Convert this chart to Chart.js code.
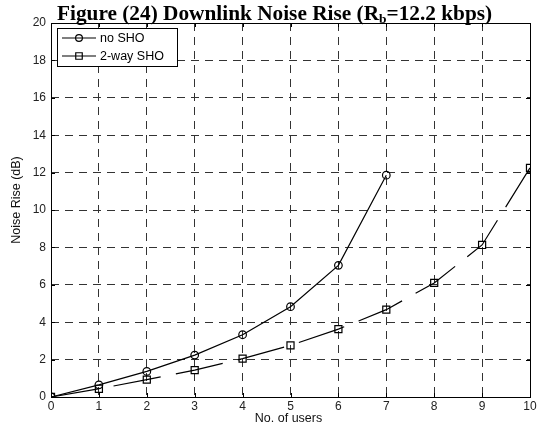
<!DOCTYPE html>
<html>
<head>
<meta charset="utf-8">
<script src="https://cdn.jsdelivr.net/npm/chart.js@4.4.0/dist/chart.umd.min.js"></script>
<style>
  html, body { margin: 0; padding: 0; background: #fff; }
  #wrap { width: 537px; height: 430px; position: relative; }
</style>
</head>
<body>
<div id="wrap"><canvas id="c"></canvas></div>
<script>
// Number of users on the x axis
const users = [0, 1, 2, 3, 4, 5, 6, 7, 8, 9, 10];
// Downlink noise rise (dB) without soft handover
const noShoRise = [0, 0.65, 1.37, 2.24, 3.33, 4.83, 7.04, 11.86];
// Downlink noise rise (dB) with 2-way soft handover
const twoWayShoRise = [0, 0.44, 0.93, 1.44, 2.05, 2.76, 3.63, 4.67, 6.1, 8.13, 12.25];
const seriesNames = ['no SHO', '2-way SHO'];
const xTicks = [0, 1, 2, 3, 4, 5, 6, 7, 8, 9, 10];
const yTicks = [0, 2, 4, 6, 8, 10, 12, 14, 16, 18, 20];
const titleMain = 'Figure (24) Downlink Noise Rise (R';
const titleSub = 'b';
const titleTail = '=12.2 kbps)';
const xLabel = 'No. of users';
const yLabel = 'Noise Rise (dB)';

const SANS = '"Liberation Sans", Arial, sans-serif';
const SERIF = '"Liberation Serif", "Times New Roman", serif';

const toPoints = (ys) => ys.map((y, i) => ({ x: users[i], y }));

// Axes frame with short inward ticks on all four sides
const framePlugin = {
  id: 'frame',
  beforeDatasetsDraw(chart) {
    const { ctx, chartArea: a, scales } = chart;
    ctx.save();
    ctx.strokeStyle = '#000';
    ctx.lineWidth = 1;
    ctx.setLineDash([]);
    ctx.beginPath();
    const L = 4;
    xTicks.forEach(v => {
      const px = Math.round(scales.x.getPixelForValue(v)) + 0.5;
      ctx.moveTo(px, a.bottom); ctx.lineTo(px, a.bottom - L);
      ctx.moveTo(px, a.top); ctx.lineTo(px, a.top + L);
    });
    yTicks.forEach(v => {
      const py = Math.round(scales.y.getPixelForValue(v)) + 0.5;
      ctx.moveTo(a.left, py); ctx.lineTo(a.left + L, py);
      ctx.moveTo(a.right, py); ctx.lineTo(a.right - L, py);
    });
    ctx.stroke();
    ctx.strokeRect(Math.round(a.left) + 0.5, Math.round(a.top) + 0.5,
                   Math.round(a.right - a.left), Math.round(a.bottom - a.top));
    ctx.restore();
  }
};

// Boxed legend (line sample + marker), title and axis labels
const annotatePlugin = {
  id: 'annotate',
  afterDraw(chart) {
    const { ctx, chartArea: a } = chart;
    ctx.save();
    ctx.setLineDash([]);

    // legend box
    const bx = 57.5, by = 28.5, bw = 120, bh = 38;
    ctx.fillStyle = '#fff';
    ctx.fillRect(bx, by, bw, bh);
    ctx.strokeStyle = '#000';
    ctx.lineWidth = 1;
    ctx.strokeRect(bx, by, bw, bh);
    const rows = [38, 56];
    chart.data.datasets.forEach((ds, i) => {
      const y = rows[i];
      ctx.strokeStyle = '#000';
      ctx.lineWidth = 1.2;
      ctx.beginPath();
      ctx.moveTo(62, y); ctx.lineTo(96, y);
      ctx.stroke();
      ctx.fillStyle = 'rgba(0,0,0,0)';
      Chart.helpers.drawPoint(ctx, {
        pointStyle: ds.pointStyle,
        radius: ds.pointStyle === 'rect' ? 4.6 : 3.4,
        rotation: 0,
        borderWidth: 1.2
      }, 79, y);
      ctx.fillStyle = '#000';
      ctx.font = '12.5px ' + SANS;
      ctx.textBaseline = 'middle';
      ctx.textAlign = 'left';
      ctx.fillText(ds.label, 100, y + 0.5);
    });

    // title with subscript
    ctx.fillStyle = '#000';
    ctx.textBaseline = 'alphabetic';
    ctx.textAlign = 'left';
    const mainFont = 'bold 21.3px ' + SERIF;
    const subFont = 'bold 13.5px ' + SERIF;
    let tx = 57;
    const ty = 19.5;
    ctx.font = mainFont;
    ctx.fillText(titleMain, tx, ty);
    tx += ctx.measureText(titleMain).width;
    ctx.font = subFont;
    ctx.fillText(titleSub, tx, ty + 3.5);
    tx += ctx.measureText(titleSub).width;
    ctx.font = mainFont;
    ctx.fillText(titleTail, tx, ty);

    // axis labels
    ctx.font = '12.5px ' + SANS;
    ctx.fillStyle = '#111';
    ctx.textAlign = 'center';
    ctx.textBaseline = 'middle';
    ctx.fillText(xLabel, (a.left + a.right) / 2 - 2, 419);
    ctx.translate(17, 200);
    ctx.rotate(-Math.PI / 2);
    ctx.fillText(yLabel, 0, 0);
    ctx.restore();
  }
};

new Chart(document.getElementById('c'), {
  type: 'scatter',
  data: {
    datasets: [
      {
        label: seriesNames[0],
        data: toPoints(noShoRise),
        showLine: true,
        borderColor: '#000',
        borderWidth: 1.2,
        pointStyle: 'circle',
        pointRadius: 3.8,
        pointBorderWidth: 1.2,
        pointBorderColor: '#000',
        pointBackgroundColor: 'rgba(0,0,0,0)',
        tension: 0
      },
      {
        label: seriesNames[1],
        data: toPoints(twoWayShoRise),
        showLine: true,
        borderColor: '#000',
        borderWidth: 1.2,
        borderDash: [48, 15.5],
        pointStyle: 'rect',
        pointRadius: 5,
        pointBorderWidth: 1.2,
        pointBorderColor: '#000',
        pointBackgroundColor: 'rgba(0,0,0,0)',
        tension: 0
      }
    ]
  },
  options: {
    responsive: true,
    maintainAspectRatio: false,
    animation: false,
    events: [],
    layout: { padding: { top: 23, right: 7, left: 0, bottom: 0 } },
    plugins: {
      legend: { display: false },
      title: { display: false },
      tooltip: { enabled: false }
    },
    scales: {
      x: {
        type: 'linear',
        min: 0,
        max: 10,
        afterBuildTicks: (s) => { s.ticks = xTicks.map(v => ({ value: v })); },
        afterFit: (s) => { s.height = 33; s.paddingLeft = 0; s.paddingRight = 0; },
        grid: { color: '#333', lineWidth: 1, drawTicks: false },
        border: { display: false, dash: [8, 6] },
        ticks: { font: { family: SANS, size: 12 }, color: '#222', padding: 2, maxRotation: 0 }
      },
      y: {
        type: 'linear',
        min: 0,
        max: 20,
        afterBuildTicks: (s) => { s.ticks = yTicks.map(v => ({ value: v })); },
        afterFit: (s) => { s.width = 51; s.paddingTop = 0; s.paddingBottom = 0; },
        grid: { color: '#333', lineWidth: 1, drawTicks: false },
        border: { display: false, dash: [8, 6] },
        ticks: { font: { family: SANS, size: 12 }, color: '#222', padding: 5 }
      }
    }
  },
  plugins: [framePlugin, annotatePlugin]
});
</script>
</body>
</html>
